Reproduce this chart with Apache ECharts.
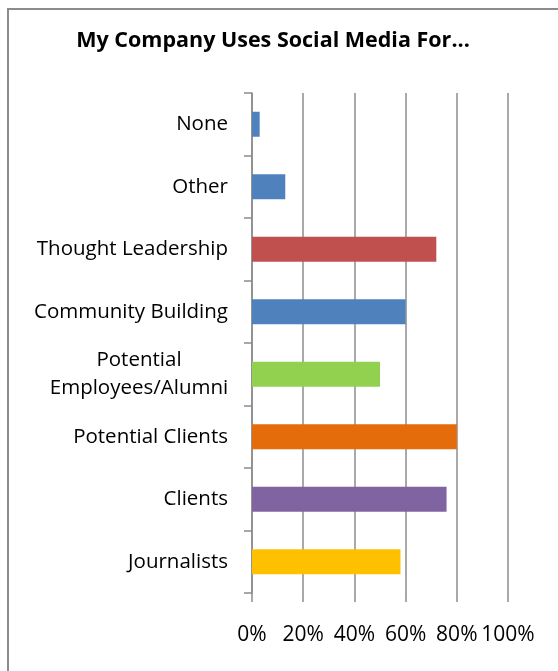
<!DOCTYPE html>
<html><head><meta charset="utf-8">
<script src="https://cdn.jsdelivr.net/npm/echarts@6/dist/echarts.min.js"></script>
<style>html,body{margin:0;padding:0;background:#fff}#c{width:558px;height:671px}</style>
</head><body><div id="c"></div>
<script>
const categories = ['Journalists','Clients','Potential Clients','Potential Employees/Alumni','Community Building','Thought Leadership','Other','None'];
const values = [58, 76, 80, 50, 60, 72, 13, 3];
const barColors = ['#FFC000','#8064A2','#E46C0A','#92D050','#4F81BD','#C0504D','#4F81BD','#4F81BD'];
const xTicks = [0, 20, 40, 60, 80, 100];

const chart = echarts.init(document.getElementById('c'), null, {renderer:'canvas'});
const FONT = '"Open Sans", sans-serif';
chart.setOption({
  animation:false,
  backgroundColor:'#fff',
  title:{
    text:'My Company Uses Social Media For...',
    left:268, top:25, textAlign:'center',
    textStyle:{fontFamily:FONT, fontWeight:'bold', fontSize:21.5, color:'#000'}
  },
  graphic:[{type:'rect', shape:{x:8, y:9, width:620, height:720}, style:{fill:null, stroke:'#8c8c8c', lineWidth:2}, silent:true}],
  grid:{left:252, right:50, top:93, bottom:78},
  xAxis:{
    type:'value', min:xTicks[0], max:xTicks[xTicks.length-1], interval:20,
    axisLine:{show:false},
    axisTick:{show:true, length:9, lineStyle:{color:'#8c8c8c', width:1.5}},
    splitLine:{show:true, lineStyle:{color:'#8c8c8c', width:1.5}},
    axisLabel:{margin:32, formatter:v=>v+'%', fontFamily:FONT, fontSize:21, color:'#000'}
  },
  yAxis:{
    type:'category', data:categories,
    axisLine:{show:true, lineStyle:{color:'#8c8c8c', width:1.5}},
    axisTick:{show:true, length:8, lineStyle:{color:'#8c8c8c', width:1.5}},
    axisLabel:{
      margin:24, fontFamily:FONT, fontSize:20.5, color:'#000', lineHeight:28,
      formatter:function(v){
        if (v.indexOf('/') >= 0) {
          const p = v.split(' ');
          return '{c|' + p[0] + '}\n{c|' + p.slice(1).join(' ') + '}';
        }
        return v;
      },
      rich:{c:{width:178, align:'center', fontFamily:FONT, fontSize:20.5, color:'#000', lineHeight:28}}
    }
  },
  series:[{
    type:'bar', barWidth:25,
    data:values.map((v,i)=>({value:v, itemStyle:{color:barColors[i]}}))
  }]
});
</script></body></html>
